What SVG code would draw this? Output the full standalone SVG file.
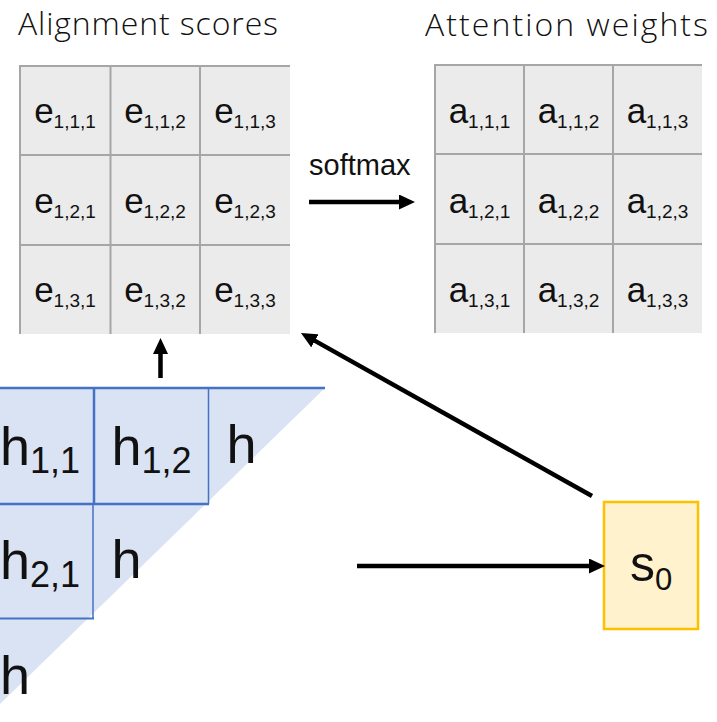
<svg xmlns="http://www.w3.org/2000/svg" width="717" height="722" viewBox="0 0 717 722">
<style>
.title{font-family:"Open Sans","Liberation Sans",sans-serif;font-size:32px;font-weight:300;fill:#111}
.cell{font-family:"Liberation Sans",Arial,sans-serif;font-size:35px;fill:#111;text-anchor:middle}
.sub{font-size:19px}
.h{font-family:"Liberation Sans",Arial,sans-serif;font-size:54px;fill:#111}
.hsub{font-size:36px}
.gbg{fill:#ebebeb}
.gl{stroke:#a6a6a6;stroke-width:2;fill:none}
.bl{stroke:#4472c4;fill:none}
.arr{stroke:#000;stroke-width:4.5;fill:none;marker-end:url(#ah)}
</style>
<defs>
<marker id="ah" markerUnits="userSpaceOnUse" markerWidth="16" markerHeight="15" refX="6" refY="7.5" orient="auto" viewBox="0 0 16 15">
<path d="M0,0 L16,7.5 L0,15 z" fill="#000"/>
</marker>
</defs>

<g id="title-alignment"><text class="title" x="18" y="35" textLength="260">Alignment scores</text></g>
<g id="title-attention"><text class="title" x="425" y="36" textLength="283">Attention weights</text></g>

<g id="alignment-grid">
<rect class="gbg" x="20" y="66" width="270" height="268"/>
<path class="gl" d="M20,334 V66 H290 M110.5,66 V334 M200,66 V334 M20,155 H290 M20,245 H290"/>
<g id="e111"><text class="cell" x="65" y="123">e<tspan class="sub" dy="5">1,1,1</tspan></text></g>
<g id="e112"><text class="cell" x="155" y="123">e<tspan class="sub" dy="5">1,1,2</tspan></text></g>
<g id="e113"><text class="cell" x="245" y="123">e<tspan class="sub" dy="5">1,1,3</tspan></text></g>
<g id="e121"><text class="cell" x="65" y="212.5">e<tspan class="sub" dy="5">1,2,1</tspan></text></g>
<g id="e122"><text class="cell" x="155" y="212.5">e<tspan class="sub" dy="5">1,2,2</tspan></text></g>
<g id="e123"><text class="cell" x="245" y="212.5">e<tspan class="sub" dy="5">1,2,3</tspan></text></g>
<g id="e131"><text class="cell" x="65" y="301.5">e<tspan class="sub" dy="5">1,3,1</tspan></text></g>
<g id="e132"><text class="cell" x="155" y="301.5">e<tspan class="sub" dy="5">1,3,2</tspan></text></g>
<g id="e133"><text class="cell" x="245" y="301.5">e<tspan class="sub" dy="5">1,3,3</tspan></text></g>
</g>

<g id="attention-grid">
<rect class="gbg" x="435" y="65" width="267" height="268"/>
<path class="gl" d="M435,333 V65 H702 M524,65 V333 M613,65 V333 M435,154 H702 M435,244 H702"/>
<g id="a111"><text class="cell" x="479.5" y="123">a<tspan class="sub" dy="5">1,1,1</tspan></text></g>
<g id="a112"><text class="cell" x="568.5" y="123">a<tspan class="sub" dy="5">1,1,2</tspan></text></g>
<g id="a113"><text class="cell" x="657.5" y="123">a<tspan class="sub" dy="5">1,1,3</tspan></text></g>
<g id="a121"><text class="cell" x="479.5" y="212.5">a<tspan class="sub" dy="5">1,2,1</tspan></text></g>
<g id="a122"><text class="cell" x="568.5" y="212.5">a<tspan class="sub" dy="5">1,2,2</tspan></text></g>
<g id="a123"><text class="cell" x="657.5" y="212.5">a<tspan class="sub" dy="5">1,2,3</tspan></text></g>
<g id="a131"><text class="cell" x="479.5" y="301.5">a<tspan class="sub" dy="5">1,3,1</tspan></text></g>
<g id="a132"><text class="cell" x="568.5" y="301.5">a<tspan class="sub" dy="5">1,3,2</tspan></text></g>
<g id="a133"><text class="cell" x="657.5" y="301.5">a<tspan class="sub" dy="5">1,3,3</tspan></text></g>
</g>

<g id="hidden-states">
<polygon points="0,388 325,388 0,704" fill="#dae3f3"/>
<path class="bl" stroke-width="2.5" d="M0,388 H325 M94,388 V504 M0,504 H209"/>
<path class="bl" stroke-width="1.5" d="M208.5,388 V504 M93,504 V619"/>
<path class="bl" stroke-width="2" d="M0,618.5 H94"/>
<g id="h11"><text class="h" x="40" y="465" text-anchor="middle">h<tspan class="hsub" dy="8">1,1</tspan></text></g>
<g id="h12"><text class="h" x="151.5" y="465" text-anchor="middle">h<tspan class="hsub" dy="8">1,2</tspan></text></g>
<g id="h13"><text class="h" x="226.5" y="463">h</text></g>
<g id="h21"><text class="h" x="40" y="579" text-anchor="middle">h<tspan class="hsub" dy="8">2,1</tspan></text></g>
<g id="h22"><text class="h" x="111.5" y="578">h</text></g>
<g id="h31"><text class="h" x="0" y="694">h</text></g>
</g>

<g id="s0">
<rect x="604" y="502" width="94" height="127" fill="#fff2cc" stroke="#ffc000" stroke-width="2.5"/>
<text class="h" x="651" y="581" text-anchor="middle" style="font-size:50px">s<tspan dy="9" style="font-size:31px">0</tspan></text>
</g>

<g id="connectors">
<text x="309" y="175" style="font-family:'Liberation Sans',Arial,sans-serif;font-size:29px;fill:#111">softmax</text>
<line class="arr" x1="309" y1="202" x2="405" y2="202"/>
<line class="arr" x1="160.5" y1="378" x2="160.5" y2="348"/>
<line class="arr" x1="592" y1="496" x2="309.7" y2="337.9"/>
<line class="arr" x1="357" y1="566" x2="595" y2="566"/>
</g>
</svg>
